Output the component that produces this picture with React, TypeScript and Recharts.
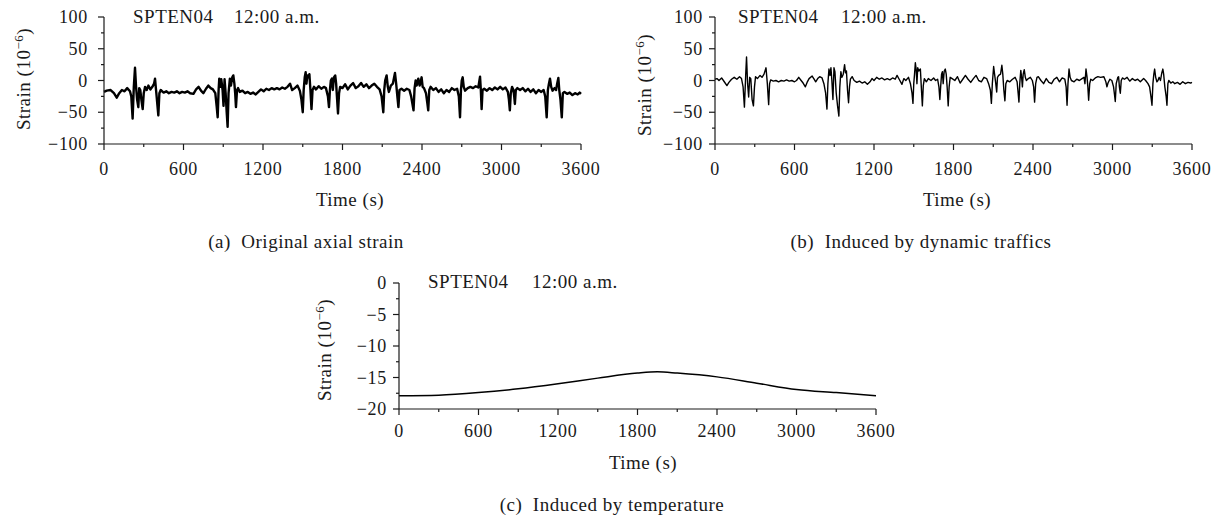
import { LineChart, Line, XAxis, YAxis } from 'recharts';

// time axis ticks (s): labelled every 600, minor every 300
const timeTicks = [0, 300, 600, 900, 1200, 1500, 1800, 2100, 2400, 2700, 3000, 3300, 3600];
const strainTicks = [-100, -75, -50, -25, 0, 25, 50, 75, 100];
const tempTicks = [-20, -17.5, -15, -12.5, -10, -7.5, -5, -2.5, 0];

const sensorName = 'SPTEN04';
const timeOfDay = '12:00 a.m.';

// (a) original axial strain, [time s, strain 1e-6]
const originalStrain: [number, number][] = [
  [0, -18], [20, -16], [50, -15], [75, -20], [96, -27], [115, -20], [135, -15], [155, -17], [175, -12],
  [196, -17], [206, -25], [216, -60], [225, -10], [234, 20], [242, -10], [250, -30], [259, -42], [266, -12],
  [274, -15], [282, -30], [292, -45], [300, -20], [310, -10], [322, -15], [335, -8], [350, -14], [365, -10],
  [378, -5], [385, 3], [395, -20], [410, -55], [418, -20], [428, -15], [450, -19], [470, -17], [490, -20],
  [510, -18], [530, -19], [550, -17], [570, -20], [590, -18], [610, -19], [630, -17], [650, -20], [675, -21],
  [695, -14], [714, -10], [732, -16], [750, -20], [770, -13], [787, -8], [805, -12], [822, -14], [840, -20],
  [850, -40], [858, -58], [865, -15], [870, 3], [878, -10], [885, 2], [895, -15], [902, -40], [910, 2],
  [918, -20], [926, -50], [933, -73], [940, -20], [950, 3], [958, -8], [968, 5], [976, 8], [984, -5],
  [990, -20], [996, -42], [1004, -15], [1012, -12], [1025, -18], [1045, -16], [1065, -20], [1085, -18],
  [1105, -21], [1125, -19], [1145, -22], [1165, -18], [1185, -14], [1205, -17], [1225, -13], [1245, -15],
  [1265, -12], [1285, -14], [1305, -12], [1325, -14], [1345, -11], [1365, -13], [1385, -10], [1404, -5],
  [1420, -15], [1440, -12], [1460, -8], [1478, -16], [1490, -30], [1500, -50], [1507, -15], [1515, 5],
  [1522, 13], [1528, -5], [1535, 8], [1542, 5], [1550, 10], [1558, -15], [1566, -45], [1574, -15],
  [1585, -10], [1600, -14], [1620, -9], [1640, -13], [1660, -10], [1675, -12], [1690, -25], [1698, -42],
  [1705, -15], [1712, 0], [1720, 3], [1727, -15], [1735, 5], [1745, 8], [1752, -5], [1758, -25],
  [1766, -52], [1774, -20], [1782, -10], [1800, -12], [1820, -6], [1840, -14], [1860, -8], [1880, -4],
  [1900, -12], [1920, -9], [1940, -4], [1960, -10], [1980, -6], [2000, -12], [2020, -8], [2040, -5],
  [2060, -10], [2080, -14], [2095, -25], [2108, -50], [2115, -15], [2122, 0], [2133, 8], [2142, -10],
  [2150, -18], [2165, -8], [2180, -5], [2196, 12], [2205, -5], [2214, -25], [2222, -42], [2230, -15],
  [2245, -13], [2265, -16], [2285, -13], [2305, -15], [2318, -25], [2336, -47], [2344, -12], [2352, 0],
  [2360, -8], [2372, 3], [2382, -8], [2390, -2], [2397, 5], [2405, -10], [2415, -12], [2430, -20],
  [2440, -35], [2447, -47], [2455, -15], [2465, -10], [2485, -15], [2505, -12], [2525, -18], [2545, -14],
  [2565, -20], [2585, -15], [2605, -18], [2625, -12], [2645, -15], [2665, -13], [2678, -25], [2687, -58],
  [2694, -15], [2700, 0], [2707, 5], [2715, -10], [2725, -16], [2745, -12], [2765, -10], [2785, -12],
  [2805, -9], [2825, -11], [2838, 6], [2844, -15], [2850, -45], [2857, -15], [2870, -13], [2890, -16],
  [2910, -12], [2930, -15], [2950, -11], [2970, -14], [2990, -10], [3010, -14], [3030, -11], [3048, -18],
  [3056, -30], [3063, -47], [3070, -20], [3080, -10], [3090, -15], [3096, -25], [3101, -37], [3108, -15],
  [3120, -12], [3140, -15], [3160, -12], [3180, -17], [3200, -13], [3220, -18], [3240, -14], [3260, -20],
  [3280, -15], [3300, -18], [3318, -15], [3330, -25], [3341, -58], [3350, -15], [3358, -5], [3366, 3],
  [3375, -10], [3385, -16], [3400, -12], [3412, -15], [3420, -5], [3429, 4], [3436, -15], [3445, -30],
  [3455, -58], [3463, -20], [3475, -18], [3495, -21], [3515, -19], [3535, -23], [3555, -20], [3575, -22],
  [3590, -19], [3600, -21],
];

// (b) induced by dynamic traffics
const trafficStrain: [number, number][] = [
  [0, 2], [15, 3], [30, 0], [50, 4], [70, -2], [90, -8], [105, -3], [125, 2], [145, 5], [165, 2], [185, 6],
  [200, 3], [212, -10], [222, -42], [232, 10], [238, 37], [246, -5], [254, -26], [262, 5], [270, 3],
  [280, -30], [290, -40], [298, -10], [306, 6], [320, 3], [340, 8], [355, 5], [370, 10], [385, 20],
  [395, -5], [405, -38], [412, -5], [420, 1], [440, -1], [460, 0], [480, -2], [500, 0], [520, -1], [540, 1],
  [560, -1], [580, 0], [600, -2], [615, 0], [632, 5], [650, 0], [665, -4], [682, -10], [695, -3], [710, 3],
  [733, 7], [748, 2], [760, -2], [775, 3], [790, 6], [808, 4], [822, -5], [835, -20], [845, -45], [852, -5],
  [860, 18], [868, 8], [875, 20], [882, 0], [890, -30], [898, 20], [905, 14], [915, -20], [925, -40],
  [935, -56], [942, -10], [950, 14], [958, 5], [968, 10], [978, 25], [985, 12], [992, 15], [1000, -15],
  [1008, -35], [1015, -10], [1022, 2], [1035, 6], [1050, 0], [1070, -3], [1090, -1], [1110, -4],
  [1130, -2], [1150, -6], [1170, -2], [1185, 3], [1200, 0], [1220, 5], [1240, 2], [1260, 4], [1280, 1],
  [1300, 3], [1320, 1], [1340, 4], [1360, 2], [1374, 8], [1390, 2], [1411, -6], [1425, 3], [1440, 0],
  [1460, 5], [1475, -5], [1487, -20], [1494, -36], [1500, -5], [1506, 10], [1512, 28], [1518, 18],
  [1524, -5], [1530, 20], [1538, 15], [1550, 18], [1557, -10], [1565, -40], [1572, -8], [1580, 3],
  [1595, -2], [1610, 3], [1630, 0], [1650, 4], [1665, 0], [1680, 2], [1690, -10], [1697, -30],
  [1703, -10], [1710, 10], [1716, 14], [1722, -5], [1730, 15], [1738, 18], [1745, 10], [1752, -10],
  [1760, -40], [1767, -10], [1775, 5], [1790, 3], [1810, 0], [1830, 6], [1850, -4], [1870, 2], [1890, 8],
  [1910, 2], [1930, -3], [1950, 3], [1970, 8], [1990, 0], [2010, -2], [2030, 5], [2050, 3], [2065, -5],
  [2078, -15], [2086, -36], [2093, -5], [2103, 22], [2110, 10], [2118, -3], [2126, -18], [2132, 5],
  [2141, 8], [2155, 10], [2165, 24], [2172, 10], [2180, -15], [2188, -32], [2195, -5], [2205, 0],
  [2225, -2], [2245, 2], [2265, 5], [2280, -2], [2288, -20], [2294, -34], [2300, -5], [2308, 16],
  [2314, 5], [2320, -10], [2326, 10], [2334, 17], [2342, 5], [2350, 0], [2365, 3], [2380, 5], [2395, 0],
  [2405, -10], [2412, -34], [2420, -5], [2430, 5], [2440, 6], [2460, 0], [2480, -5], [2500, 3],
  [2520, -3], [2540, -5], [2560, 2], [2580, 5], [2600, -2], [2620, 4], [2640, 2], [2650, -10],
  [2657, -39], [2664, -5], [2672, 18], [2680, 5], [2690, 0], [2710, -2], [2730, 2], [2750, 0], [2770, 3],
  [2785, 5], [2792, -5], [2800, 18], [2808, 5], [2814, -10], [2820, -31], [2828, -5], [2836, 2],
  [2850, 0], [2870, 4], [2890, 6], [2910, 5], [2935, 6], [2950, -2], [2958, -10], [2966, -4], [2980, 2],
  [2995, 0], [3008, -10], [3015, -22], [3021, -33], [3028, -5], [3040, 5], [3046, 6], [3052, -10],
  [3059, -20], [3066, 0], [3075, 4], [3090, 2], [3110, 5], [3130, -1], [3150, 3], [3170, 0], [3190, 2],
  [3210, -2], [3235, 3], [3250, 0], [3268, -5], [3280, -10], [3290, -25], [3298, -39], [3305, -5],
  [3312, 10], [3318, 18], [3326, 5], [3335, -2], [3343, 0], [3352, 5], [3362, 0], [3372, 12], [3380, 18],
  [3386, 10], [3395, -10], [3405, -25], [3411, -39], [3418, -5], [3425, 0], [3440, -4], [3455, -2],
  [3470, -5], [3490, -3], [3510, -6], [3530, -2], [3550, -5], [3570, -3], [3590, -4], [3600, -3],
];

// (c) induced by temperature
const temperatureStrain: [number, number][] = [
  [0, -17.9], [300, -17.8], [600, -17.4], [900, -16.8], [1200, -16.0], [1500, -15.1], [1800, -14.3],
  [1950, -14.1], [2100, -14.3], [2400, -14.9], [2700, -15.9], [3000, -16.9], [3300, -17.4], [3600, -17.9],
];

const FONT = '"Liberation Serif", "Times New Roman", serif';
const INK = '#1a1a1a';

const toRows = (pts: [number, number][]) => pts.map(([t, v]) => ({ t, v }));

const fmt = (v: number) => (v < 0 ? `\u2212${Math.abs(v)}` : `${v}`);

function makeXTick(labelDy: number) {
  return function XTick(props: any) {
    const { x, y, payload } = props;
    const major = payload.value % 600 === 0;
    return (
      <g>
        <line x1={x} x2={x} y1={y} y2={y + (major ? 6 : 3)} stroke={INK} strokeWidth={1.2} />
        {major && (
          <text x={x} y={y + labelDy} textAnchor="middle" fontFamily={FONT} fontSize={18} letterSpacing={0.7} fill={INK}>
            {payload.value}
          </text>
        )}
      </g>
    );
  };
}

function makeYTick(step: number, gap: number) {
  return function YTick(props: any) {
    const { x, y, payload } = props;
    const major = Math.abs(payload.value % step) < 1e-6;
    return (
      <g>
        <line x1={x - (major ? 6 : 3)} x2={x} y1={y} y2={y} stroke={INK} strokeWidth={1.2} />
        {major && (
          <text x={x - gap} y={y + 6} textAnchor="end" fontFamily={FONT} fontSize={18} letterSpacing={0.7} fill={INK}>
            {fmt(payload.value)}
          </text>
        )}
      </g>
    );
  };
}

interface PanelProps {
  left: number;
  top: number;
  points: [number, number][];
  domain: [number, number];
  yTicks: number[];
  step: number;
  gap: number;
  labelDy: number;
  strokeWidth: number;
  curve: 'linear' | 'monotone';
  bottom: number;
}

function Panel({ left, top, points, domain, yTicks, step, gap, labelDy, strokeWidth, curve, bottom }: PanelProps) {
  return (
    <div style={{ position: 'absolute', left, top }}>
      <LineChart width={600} height={225} data={toRows(points)} margin={{ top: 17, right: 19, left: 44, bottom }}>
        <XAxis
          dataKey="t"
          type="number"
          domain={[0, 3600]}
          ticks={timeTicks}
          interval={0}
          height={40}
          tickSize={0}
          tickMargin={0}
          tickLine={false}
          axisLine={{ stroke: INK, strokeWidth: 1.2 }}
          tick={makeXTick(labelDy)}
        />
        <YAxis
          type="number"
          domain={domain}
          ticks={yTicks}
          interval={0}
          width={60}
          tickSize={0}
          tickMargin={0}
          tickLine={false}
          axisLine={{ stroke: INK, strokeWidth: 1.2 }}
          tick={makeYTick(step, gap)}
          allowDataOverflow
        />
        <Line
          type={curve}
          dataKey="v"
          stroke="#000"
          strokeWidth={strokeWidth}
          strokeLinejoin="round"
          dot={false}
          activeDot={false}
          isAnimationActive={false}
        />
      </LineChart>
    </div>
  );
}

function YLabel({ x, y }: { x: number; y: number }) {
  return (
    <text x={x} y={y} transform={`rotate(-90 ${x} ${y})`} textAnchor="middle" fontFamily={FONT} fontSize={19} letterSpacing={0.5} fill={INK}>
      Strain (10
      <tspan fontSize={13} dy={-7}>
        {'\u22126'}
      </tspan>
      <tspan dy={7}>)</tspan>
    </text>
  );
}

function Title({ x1, x2, y }: { x1: number; x2: number; y: number }) {
  return (
    <g fontFamily={FONT} fontSize={19} letterSpacing={0.5} fill={INK}>
      <text x={x1} y={y}>{sensorName}</text>
      <text x={x2} y={y}>{timeOfDay}</text>
    </g>
  );
}

function Caption({ x, y, children }: { x: number; y: number; children: string }) {
  return (
    <text x={x} y={y} textAnchor="middle" fontFamily={FONT} fontSize={19} letterSpacing={0.5} fill={INK} xmlSpace="preserve">
      {children}
    </text>
  );
}

export default function App() {
  return (
    <div style={{ position: 'absolute', left: 0, top: 0, width: 1215, height: 517, background: '#fff', overflow: 'hidden' }}>
      <Panel left={0} top={0} points={originalStrain} domain={[-100, 100]} yTicks={strainTicks} step={50} gap={16} labelDy={31} strokeWidth={2.4} curve="linear" bottom={41} />
      <Panel left={611} top={0} points={trafficStrain} domain={[-100, 100]} yTicks={strainTicks} step={50} gap={12} labelDy={31} strokeWidth={1.4} curve="linear" bottom={41} />
      <Panel left={295} top={266} points={temperatureStrain} domain={[-20, 0]} yTicks={tempTicks} step={5} gap={12} labelDy={28} strokeWidth={1.5} curve="monotone" bottom={42} />
      <svg width={1215} height={517} style={{ position: 'absolute', left: 0, top: 0, pointerEvents: 'none' }}>
        <Title x1={133} x2={234} y={23} />
        <Title x1={738} x2={841} y={23} />
        <Title x1={428} x2={532} y={288} />
        <YLabel x={30} y={79} />
        <YLabel x={651} y={85} />
        <YLabel x={331} y={350} />
        <Caption x={350} y={206}>Time (s)</Caption>
        <Caption x={957} y={206}>Time (s)</Caption>
        <Caption x={643} y={469}>Time (s)</Caption>
        <Caption x={306} y={248}>(a)  Original axial strain</Caption>
        <Caption x={921} y={248}>(b)  Induced by dynamic traffics</Caption>
        <Caption x={612} y={511}>(c)  Induced by temperature</Caption>
      </svg>
    </div>
  );
}
